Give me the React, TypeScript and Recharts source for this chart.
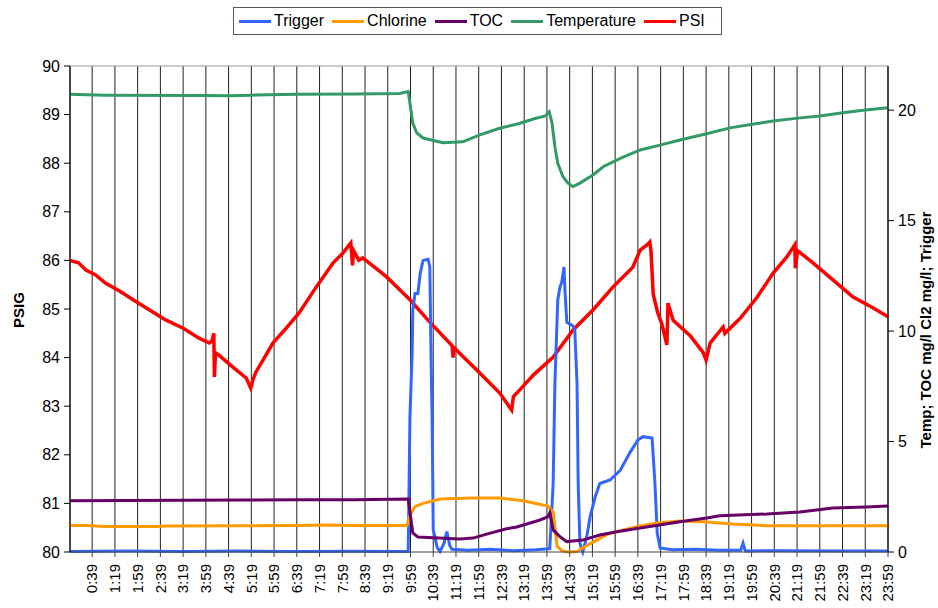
import { CartesianGrid, Line, LineChart, ReferenceLine, XAxis, YAxis } from 'recharts'

// minutes after midnight, value
const trigger: [number, number][] = [
    [0, 0.02], [100, 0.04], [200, 0.02], [300, 0.04], [400, 0.02], [500, 0.03], [595, 0.02],
    [598, 6.1], [602, 9.1], [603, 10.95], [607, 11.7], [612, 11.7], [616, 12.6], [621, 13.2],
    [630, 13.25], [633, 12.9], [635, 9.1], [637, 6.1], [639, 1.0], [646, 0.2], [651, 0.03],
    [658, 0.4], [663, 0.92], [668, 0.3], [672, 0.12], [700, 0.08], [740, 0.12], [780, 0.06],
    [820, 0.1], [844, 0.15], [850, 3.1], [853, 7.6], [857, 10.6], [858, 11.4], [862, 12.0],
    [865, 12.2], [869, 12.9], [871, 11.7], [874, 10.4], [885, 10.23], [888, 10.05], [892, 7.6],
    [894, 3.1], [897, 0.4], [902, 0.0], [909, 0.68], [915, 1.6], [924, 2.5], [932, 3.1],
    [950, 3.26], [968, 3.7], [985, 4.5], [999, 5.07], [1008, 5.22], [1024, 5.16], [1029, 3.1],
    [1033, 0.86], [1038, 0.18], [1060, 0.1], [1100, 0.12], [1140, 0.08], [1180, 0.08],
    [1184, 0.4], [1188, 0.05], [1250, 0.06], [1350, 0.04], [1439, 0.04],
]

const chlorine: [number, number][] = [
    [0, 1.2], [30, 1.2], [60, 1.15], [150, 1.15], [170, 1.18], [300, 1.19], [400, 1.2],
    [450, 1.22], [500, 1.2], [593, 1.2], [596, 1.5], [600, 1.77], [607, 2.05], [621, 2.2],
    [651, 2.4], [709, 2.44], [756, 2.44], [797, 2.32], [832, 2.13], [840, 2.1], [850, 1.8],
    [857, 0.25], [866, 0.05], [875, 0.0], [892, 0.02], [902, 0.18], [920, 0.45], [945, 0.8],
    [973, 1.0], [1003, 1.18], [1033, 1.31], [1073, 1.4], [1114, 1.37], [1166, 1.27],
    [1226, 1.19], [1300, 1.19], [1439, 1.19],
]

const toc: [number, number][] = [
    [0, 2.32], [100, 2.33], [300, 2.35], [400, 2.36], [500, 2.36], [595, 2.4], [603, 0.86],
    [612, 0.68], [686, 0.59], [709, 0.63], [733, 0.81], [768, 1.05], [786, 1.13], [827, 1.45],
    [841, 1.6], [844, 1.77], [850, 1.0], [862, 0.69], [874, 0.47], [902, 0.54], [932, 0.77],
    [962, 0.92], [1003, 1.09], [1073, 1.37], [1120, 1.54], [1143, 1.64], [1226, 1.72],
    [1284, 1.81], [1342, 1.99], [1400, 2.04], [1439, 2.08],
]

const temperature: [number, number][] = [
    [0, 20.72], [60, 20.68], [230, 20.66], [280, 20.65], [320, 20.68], [400, 20.72],
    [500, 20.73], [580, 20.76], [595, 20.84], [603, 19.42], [610, 18.97], [621, 18.74],
    [656, 18.53], [691, 18.57], [721, 18.88], [756, 19.18], [792, 19.41], [815, 19.6],
    [836, 19.74], [843, 19.93], [848, 19.42], [853, 18.35], [858, 17.6], [867, 17.0],
    [876, 16.7], [885, 16.54], [897, 16.7], [920, 17.07], [938, 17.44], [968, 17.82],
    [1003, 18.2], [1038, 18.42], [1073, 18.65], [1120, 18.93], [1161, 19.2], [1200, 19.36],
    [1237, 19.51], [1280, 19.64], [1319, 19.74], [1360, 19.88], [1395, 20.0], [1439, 20.11],
]

const psi: [number, number][] = [
    [0, 86.0], [15, 85.95], [28, 85.8], [45, 85.7], [63, 85.53], [90, 85.35], [111, 85.19],
    [140, 84.98], [169, 84.77], [200, 84.6], [227, 84.4], [245, 84.3], [250, 84.35],
    [253, 84.5], [254, 83.6], [256, 84.1], [262, 84.05], [287, 83.8], [310, 83.58],
    [318, 83.37], [322, 83.55], [327, 83.7], [357, 84.3], [380, 84.6], [403, 84.92],
    [433, 85.45], [463, 85.95], [480, 86.15], [490, 86.3], [494, 86.36], [497, 85.9],
    [499, 86.2], [508, 86.0], [515, 86.05], [557, 85.66], [598, 85.19], [633, 84.73],
    [672, 84.25], [674, 84.0], [676, 84.2], [716, 83.74], [756, 83.27], [777, 82.92],
    [780, 83.2], [786, 83.27], [815, 83.64], [850, 84.01], [885, 84.57], [920, 84.98],
    [955, 85.45], [990, 85.86], [1003, 86.21], [1015, 86.32], [1020, 86.38], [1022, 86.2],
    [1026, 85.3], [1034, 84.92], [1041, 84.7], [1050, 84.26], [1052, 85.12], [1061, 84.77],
    [1091, 84.45], [1114, 84.1], [1119, 83.95], [1126, 84.3], [1149, 84.63], [1152, 84.5],
    [1179, 84.81], [1208, 85.23], [1237, 85.74], [1261, 86.07], [1275, 86.32], [1276, 85.84],
    [1280, 86.2], [1307, 85.95], [1342, 85.6], [1377, 85.25], [1413, 85.02], [1439, 84.84],
]

const tickLabels = [
    '0:39', '1:19', '1:59', '2:39', '3:19', '3:59', '4:39', '5:19', '5:59', '6:39', '7:19', '7:59',
    '8:39', '9:19', '9:59', '10:39', '11:19', '11:59', '12:39', '13:19', '13:59', '14:39', '15:19',
    '15:59', '16:39', '17:19', '17:59', '18:39', '19:19', '19:59', '20:39', '21:19', '21:59',
    '22:39', '23:19', '23:59',
]

const psiTicks = [80, 81, 82, 83, 84, 85, 86, 87, 88, 89, 90]
const rightTicks = [0, 5, 10, 15, 20]

const toMinutes = (s: string) => {
    const [h, m] = s.split(':').map(Number)
    return h * 60 + m
}
const timeTicks = tickLabels.map(toMinutes)
const labelFor = (m: number) => tickLabels[timeTicks.indexOf(m)] ?? ''

const font = '"Liberation Sans", Arial, sans-serif'
const rows = (pairs: [number, number][]) => pairs.map(([t, v]) => ({ t, v }))

const series = [
    { name: 'Trigger', color: '#3366FF' },
    { name: 'Chlorine', color: '#FF9900' },
    { name: 'TOC', color: '#660066' },
    { name: 'Temperature', color: '#339966' },
    { name: 'PSI', color: '#FF0000' },
]

const TimeTick = ({ x, y, payload }: any) => (
    <text
        x={x}
        y={y}
        dy="0.35em"
        transform={`rotate(-90 ${x} ${y})`}
        textAnchor="end"
        fontSize={15}
        fontFamily={font}
        fill="#000"
    >
        {labelFor(payload.value)}
    </text>
)

export default function App() {
    return (
        <div style={{ position: 'absolute', left: 0, top: 0, width: 938, height: 608, background: '#fff', fontFamily: font }}>
            <div style={{
                position: 'absolute', left: 233, top: 7, width: 482, height: 26, border: '1px solid #555',
                display: 'flex', alignItems: 'center', paddingLeft: 5, boxSizing: 'content-box', zIndex: 2,
            }}>
                {series.map((s) => (
                    <div key={s.name} style={{ display: 'flex', alignItems: 'center', marginRight: 8 }}>
                        <span style={{ display: 'inline-block', width: 32, height: 3, background: s.color, marginRight: 3 }} />
                        <span style={{ fontSize: 16, color: '#000' }}>{s.name}</span>
                    </div>
                ))}
            </div>
            <LineChart width={938} height={608} margin={{ top: 66, right: 0, bottom: 0, left: 0 }}>
                <CartesianGrid yAxisId="psi" horizontal={false} vertical stroke="#222" />
                <XAxis
                    dataKey="t"
                    type="number"
                    domain={[0, 1439]}
                    ticks={timeTicks}
                    interval={0}
                    height={56}
                    tickSize={5}
                    tickMargin={7}
                    tick={<TimeTick />}
                    axisLine={{ stroke: '#444' }}
                    tickLine={{ stroke: '#444' }}
                    allowDataOverflow
                />
                <YAxis
                    yAxisId="psi"
                    domain={[80, 90]}
                    ticks={psiTicks}
                    width={70}
                    tickSize={6}
                    tickMargin={4}
                    axisLine={{ stroke: '#000' }}
                    tickLine={{ stroke: '#000' }}
                    tick={{ fontSize: 16, fill: '#000', fontFamily: font }}
                    label={{
                        content: () => (
                            <text x={18} y={310} transform="rotate(-90 18 310)" textAnchor="middle"
                                dominantBaseline="central" fontWeight="bold" fontSize={15} fontFamily={font}>
                                PSIG
                            </text>
                        ),
                    }}
                />
                <YAxis
                    yAxisId="r"
                    orientation="right"
                    domain={[0, 22]}
                    ticks={rightTicks}
                    width={50}
                    tickSize={6}
                    tickMargin={4}
                    axisLine={{ stroke: '#000' }}
                    tickLine={{ stroke: '#000' }}
                    tick={{ fontSize: 16, fill: '#000', fontFamily: font }}
                    label={{
                        content: () => (
                            <text x={925} y={330} transform="rotate(-90 925 330)" textAnchor="middle"
                                dominantBaseline="central" fontWeight="bold" fontSize={15} fontFamily={font}>
                                Temp; TOC mg/l Cl2 mg/l; Trigger
                            </text>
                        ),
                    }}
                />
                <ReferenceLine yAxisId="psi" y={90} stroke="#999" />
                <Line yAxisId="psi" data={rows(psi)} dataKey="v" name="PSI" stroke="#FF0000" strokeWidth={3.5}
                    dot={false} isAnimationActive={false} type="linear" />
                <Line yAxisId="r" data={rows(trigger)} dataKey="v" name="Trigger" stroke="#3366FF" strokeWidth={3}
                    dot={false} isAnimationActive={false} type="linear" />
                <Line yAxisId="r" data={rows(chlorine)} dataKey="v" name="Chlorine" stroke="#FF9900" strokeWidth={3}
                    dot={false} isAnimationActive={false} type="linear" />
                <Line yAxisId="r" data={rows(toc)} dataKey="v" name="TOC" stroke="#660066" strokeWidth={3}
                    dot={false} isAnimationActive={false} type="linear" />
                <Line yAxisId="r" data={rows(temperature)} dataKey="v" name="Temperature" stroke="#339966" strokeWidth={3}
                    dot={false} isAnimationActive={false} type="linear" />
            </LineChart>
        </div>
    )
}
